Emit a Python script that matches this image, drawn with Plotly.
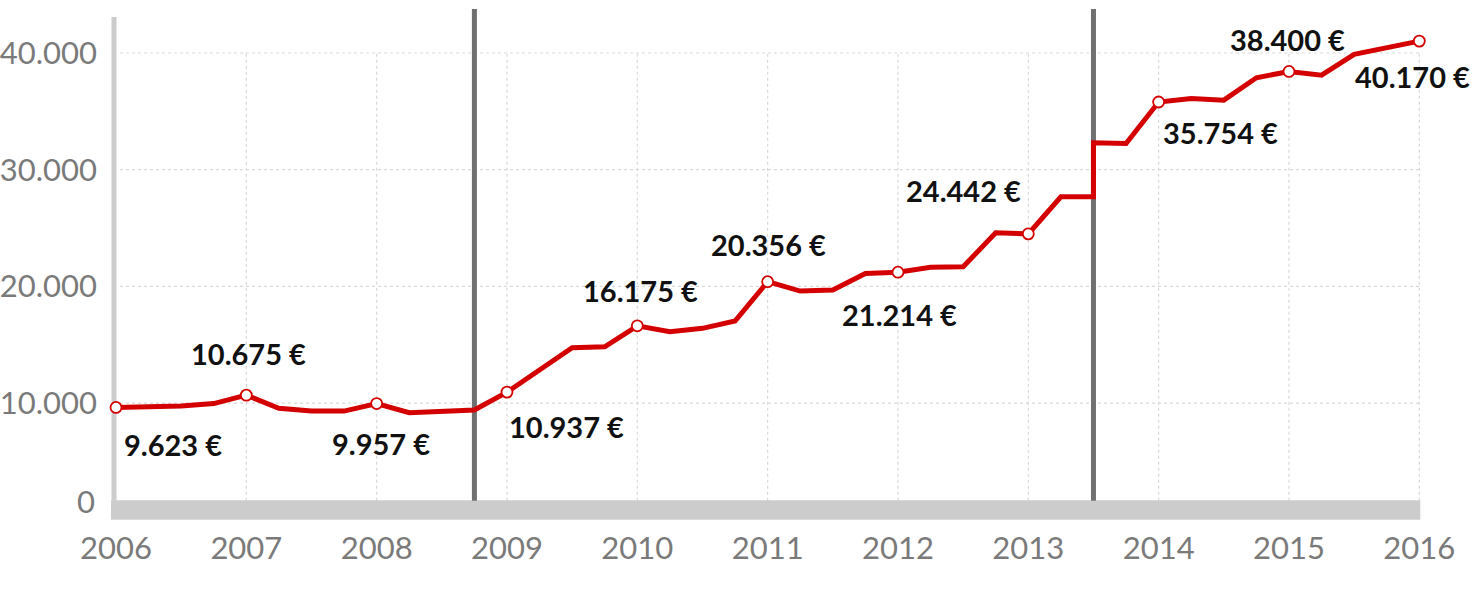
import plotly.graph_objects as go

# ---------------- data ----------------
periods = [2006, 2006.25, 2006.5, 2006.75,
           2007, 2007.25, 2007.5, 2007.75,
           2008, 2008.25, 2008.5, 2008.75,
           2009, 2009.25, 2009.5, 2009.75,
           2010, 2010.25, 2010.5, 2010.75,
           2011, 2011.25, 2011.5, 2011.75,
           2012, 2012.25, 2012.5, 2012.75,
           2013, 2013.25, 2013.5, 2013.5, 2013.75,
           2014, 2014.25, 2014.5, 2014.75,
           2015, 2015.25, 2015.5, 2015.75,
           2016]
values = [9623, 9700, 9750, 9950,
          10675, 9550, 9310, 9310,
          9957, 9170, 9250, 9400,
          10937, 12850, 14740, 14820,
          16620, 16110, 16400, 17030,
          20400, 19600, 19680, 21110,
          21214, 21630, 21680, 24590,
          24500, 27680, 27680, 32300, 32250,
          35800, 36110, 35960, 37880,
          38420, 38100, 39880, 40420,
          41020]

label_years = [2006, 2007, 2008, 2009, 2010, 2011, 2012, 2013, 2014, 2015, 2016]
label_texts = ["9.623 €", "10.675 €", "9.957 €", "10.937 €", "16.175 €", "20.356 €",
               "21.214 €", "24.442 €", "35.754 €", "38.400 €", "40.170 €"]

year_ticks = [2006, 2007, 2008, 2009, 2010, 2011, 2012, 2013, 2014, 2015, 2016]
year_tick_text = ["2006", "2007", "2008", "2009", "2010", "2011", "2012", "2013", "2014", "2015", "2016"]
value_ticks = [10000, 20000, 30000, 40000]
value_tick_text = ["10.000", "20.000", "30.000", "40.000"]
zero_label = "0"

break_years = [2008.75, 2013.5]

# ---------------- styling / layout ----------------
W, H = 1475, 600
ML, MR, MT, MB = 100, 35, 0, 75
X2006_PX = 116.0             # page px of 2006
Y0_PX = 519.7                # page px of value 0
PX_PER_YEAR = 130.33
PX_PER_UNIT = 0.011667

plot_left_px = ML
plot_right_px = W - MR
plot_top_px = MT
plot_bottom_px = H - MB
x_left = 2006 - (X2006_PX - plot_left_px) / PX_PER_YEAR
x_right = 2006 + (plot_right_px - X2006_PX) / PX_PER_YEAR
y_bottom = -(plot_bottom_px - Y0_PX) / PX_PER_UNIT
y_top = (Y0_PX - plot_top_px) / PX_PER_UNIT

RED = "#d40000"
BAR = "#cccccc"
DARK = "#707070"
GRID = "#d9d9d9"
TICK = "#7a7a7a"

px_x = 1 / PX_PER_YEAR
px_y = 1 / PX_PER_UNIT

fig = go.Figure()

shapes = []
# dotted grid lines
for v in value_ticks:
    shapes.append(dict(type="line", xref="x", yref="y", x0=2006 + 4 * px_x, x1=2016,
                       y0=v, y1=v, line=dict(color=GRID, width=1.2, dash="dot"), layer="below"))
for yr in year_ticks[1:]:
    shapes.append(dict(type="line", xref="x", yref="y", x0=yr, x1=yr,
                       y0=19 * px_y, y1=40000, line=dict(color=GRID, width=1.2, dash="dot"), layer="below"))
# bottom bar
shapes.append(dict(type="rect", xref="x", yref="y", x0=2006 - 5 * px_x, x1=2016 + 1 * px_x,
                   y0=0, y1=19.5 * px_y, fillcolor=BAR, line=dict(width=0), layer="below"))
# left axis line
shapes.append(dict(type="line", xref="x", yref="y", x0=2006 - 2 * px_x, x1=2006 - 2 * px_x,
                   y0=19 * px_y, y1=(Y0_PX - 17) * px_y, line=dict(color=BAR, width=5), layer="below"))
# break lines
for b in break_years:
    shapes.append(dict(type="line", xref="x", yref="y", x0=b, x1=b,
                       y0=19 * px_y, y1=(Y0_PX - 9) * px_y, line=dict(color=DARK, width=5), layer="below"))

marker_sizes = [11 if (p in label_years) else 0 for p in periods]

fig.add_trace(go.Scatter(
    x=periods, y=values, mode="lines+markers",
    line=dict(color=RED, width=5),
    marker=dict(size=marker_sizes, color="white", line=dict(color=RED, width=1.8), opacity=1),
    hoverinfo="skip", showlegend=False, cliponaxis=False,
))

# label placement (pixel offsets): (xanchor, xshift, yshift)
label_place = [
    ("left", 6, -37), ("center", 2, 42), ("center", 4, -40), ("left", 0, -34),
    ("center", 3, 35), ("center", 1, 37), ("center", 2, -42), ("right", -5, 43),
    ("left", 2, -30), ("center", -1, 32), ("right", 53, -35),
]
val_at = {}
for p, v in zip(periods, values):
    val_at.setdefault(p, v)

annotations = []
for yr, txt, (xa, xs, ys) in zip(label_years, label_texts, label_place):
    annotations.append(dict(x=yr, y=val_at[yr], xref="x", yref="y", text=txt, showarrow=False,
                            xanchor=xa, yanchor="middle", xshift=xs, yshift=ys,
                            font=dict(family="Lato", size=29, color="#111111", weight="bold")))
annotations.append(dict(x=x_left, y=0, xref="x", yref="y", text=zero_label, showarrow=False,
                        xanchor="right", yanchor="middle", xshift=-3, yshift=19,
                        font=dict(family="Lato", size=31, color=TICK, weight=400)))

fig.update_layout(
    width=W, height=H,
    margin=dict(l=ML, r=MR, t=MT, b=MB, autoexpand=False),
    paper_bgcolor="white", plot_bgcolor="white",
    shapes=shapes, annotations=annotations,
    xaxis=dict(range=[x_left, x_right], tickvals=year_ticks, ticktext=year_tick_text,
               showgrid=False, zeroline=False, showline=False, ticks="", automargin=False,
               tickfont=dict(family="Lato", size=31, color=TICK, weight=400),
               ticklabelstandoff=2),
    yaxis=dict(range=[y_bottom, y_top], tickvals=value_ticks, ticktext=value_tick_text,
               showgrid=False, zeroline=False, showline=False, ticks="", automargin=False,
               tickfont=dict(family="Lato", size=31, color=TICK, weight=400),
               ticklabelstandoff=2),
)

fig.write_html("out.html", config={"displayModeBar": False},
               post_script="document.body.style.margin='0px';")
